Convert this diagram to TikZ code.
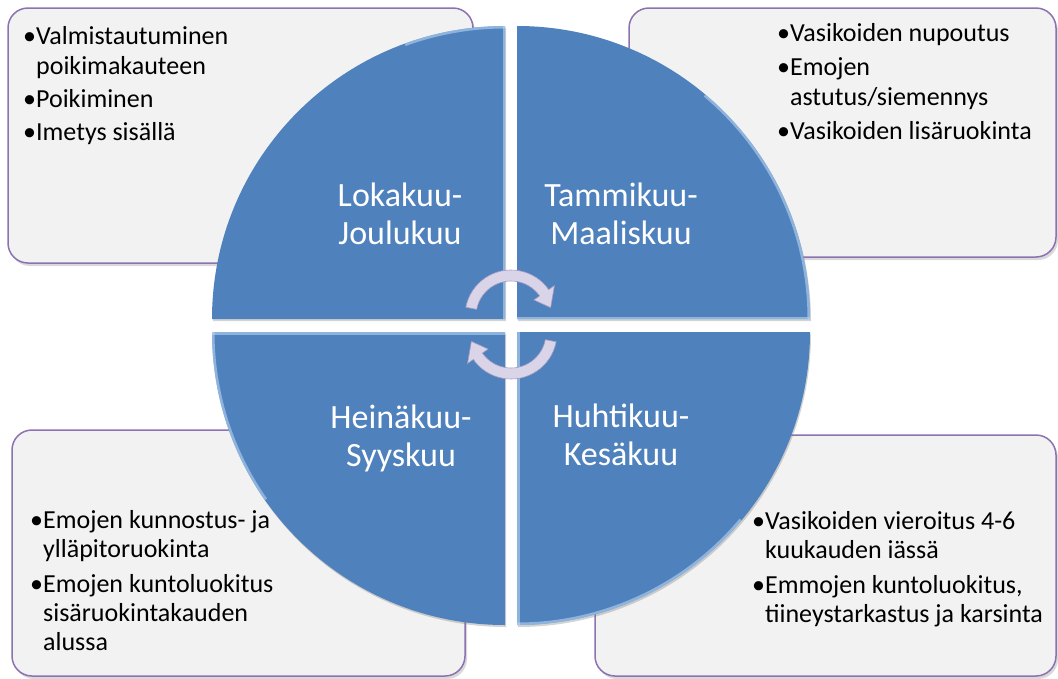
\documentclass[tikz,border=0pt]{standalone}
\usepackage{fontspec}
\setmainfont{Carlito}
\usetikzlibrary{shadows}
\definecolor{quadblue}{HTML}{4F81BD}
\definecolor{boxfill}{HTML}{F2F2F2}
\definecolor{boxline}{HTML}{8C72B0}
\definecolor{rimlight}{HTML}{B8D6F5}
\definecolor{arrowfill}{HTML}{DAD4E8}
\definecolor{arrowline}{HTML}{A79DC4}
\begin{document}
\begin{tikzpicture}[x=1pt,y=1pt,
  infobox/.style={fill=boxfill, draw=boxline, line width=1.5pt, rounded corners=20pt, inner sep=0pt,
    drop shadow={opacity=0.3, shadow xshift=2pt, shadow yshift=-3pt}},
  quad/.style={fill=quadblue, drop shadow={opacity=0.35, shadow xshift=1pt, shadow yshift=-2pt}},
  rim/.style={draw=rimlight, line width=5pt, opacity=0.6},
  seasonlabel/.style={text=white, font=\fontsize{34}{38}\selectfont, align=center, inner sep=0pt},
  bullettext/.style={text=black, align=left, inner sep=0pt, anchor=base west},
  cyclearrow/.style={fill=arrowfill, draw=arrowline, line width=0.6pt}
]
\useasboundingbox (0,0) rectangle (1058,-678);

% information boxes
\node[infobox, minimum width=465pt, minimum height=255pt] (boxTL) at (240.5,-135.5) {};
\node[infobox, minimum width=427pt, minimum height=249pt] (boxTR) at (842.5,-132.5) {};
\node[infobox, minimum width=453pt, minimum height=246pt] (boxBL) at (238.5,-553) {};
\node[infobox, minimum width=461pt, minimum height=241pt] (boxBR) at (825.5,-555.5) {};

% quadrants
\path[quad] (505,-319) -- (212,-319) arc[start angle=180, end angle=90, radius=293] -- cycle;
\path[quad] (517,-319) -- (517,-26) arc[start angle=90, end angle=0, radius=293] -- cycle;
\path[quad] (505,-332) -- (212,-332) arc[start angle=180, end angle=270, radius=293] -- cycle;
\path[quad] (517,-332) -- (810,-332) arc[start angle=0, end angle=-90, radius=293] -- cycle;

% bevel highlights
\begin{scope}
  \clip (505,-319) -- (212,-319) arc[start angle=180, end angle=90, radius=293] -- cycle;
  \draw[rim] (505,-319) -- (505,-26);
  \draw[rim] (505,-26) arc[start angle=90, end angle=110, radius=293];
\end{scope}
\begin{scope}
  \clip (517,-319) -- (517,-26) arc[start angle=90, end angle=0, radius=293] -- cycle;
  \draw[rim] (517,-319) -- (810,-319);
  \draw[rim] (810,-319) arc[start angle=0, end angle=50, radius=293];
\end{scope}
\begin{scope}
  \clip (505,-332) -- (212,-332) arc[start angle=180, end angle=270, radius=293] -- cycle;
  \draw[rim] (212,-332) -- (505,-332);
  \draw[rim] (212,-332) arc[start angle=180, end angle=215, radius=293];
\end{scope}
\begin{scope}
  \clip (517,-332) -- (810,-332) arc[start angle=0, end angle=-90, radius=293] -- cycle;
  \draw[rim] (517,-332) -- (517,-625);
  \draw[rim] (517,-625) arc[start angle=-90, end angle=-40, radius=293];
\end{scope}

% season labels
\node[seasonlabel] (lblTL) at (400,-214) {Lokakuu-\\Joulukuu};
\node[seasonlabel] (lblTR) at (621,-214) {Tammikuu-\\Maaliskuu};
\node[seasonlabel] (lblBL) at (401,-438) {Heinäkuu-\\Syyskuu};
\node[seasonlabel] (lblBR) at (621,-435) {Huhtikuu-\\Kesäkuu};

% cycle arrows
\begin{scope}[shift={(511,-316)}]
  \path[cyclearrow] (169:46) arc[start angle=169, end angle=35, radius=46]
    -- (35:53) -- (12:40.5) -- (35:28) -- (35:35)
    arc[start angle=35, end angle=169, radius=35] -- cycle;
\end{scope}
\begin{scope}[shift={(511,-333)}, rotate=180]
  \path[cyclearrow] (169:46) arc[start angle=169, end angle=35, radius=46]
    -- (35:53) -- (12:40.5) -- (35:28) -- (35:35)
    arc[start angle=35, end angle=169, radius=35] -- cycle;
\end{scope}

% bullet texts (anchor base = last line's baseline)
\node[bullettext, font=\fontsize{26}{30}\selectfont] (txtTL) at (23,-140)
  {•Valmistautuminen\\\phantom{•}poikimakauteen\\[3pt]•Poikiminen\\[3pt]•Imetys sisällä};
\node[bullettext, font=\fontsize{26}{30}\selectfont] (txtTR) at (777,-139)
  {•Vasikoiden nupoutus\\[4pt]•Emojen\\\phantom{•}astutus/siemennys\\[4pt]•Vasikoiden lisäruokinta};
\node[bullettext, font=\fontsize{26}{29}\selectfont] (txtBL) at (30,-650)
  {•Emojen kunnostus- ja\\\phantom{•}ylläpitoruokinta\\[6pt]•Emojen kuntoluokitus\\\phantom{•}sisäruokintakauden\\\phantom{•}alussa};
\node[bullettext, font=\fontsize{26}{29}\selectfont] (txtBR) at (752,-622)
  {•Vasikoiden vieroitus 4-6\\\phantom{•}kuukauden iässä\\[6pt]•Emmojen kuntoluokitus,\\\phantom{•}tiineystarkastus ja karsinta};
\end{tikzpicture}
\end{document}
